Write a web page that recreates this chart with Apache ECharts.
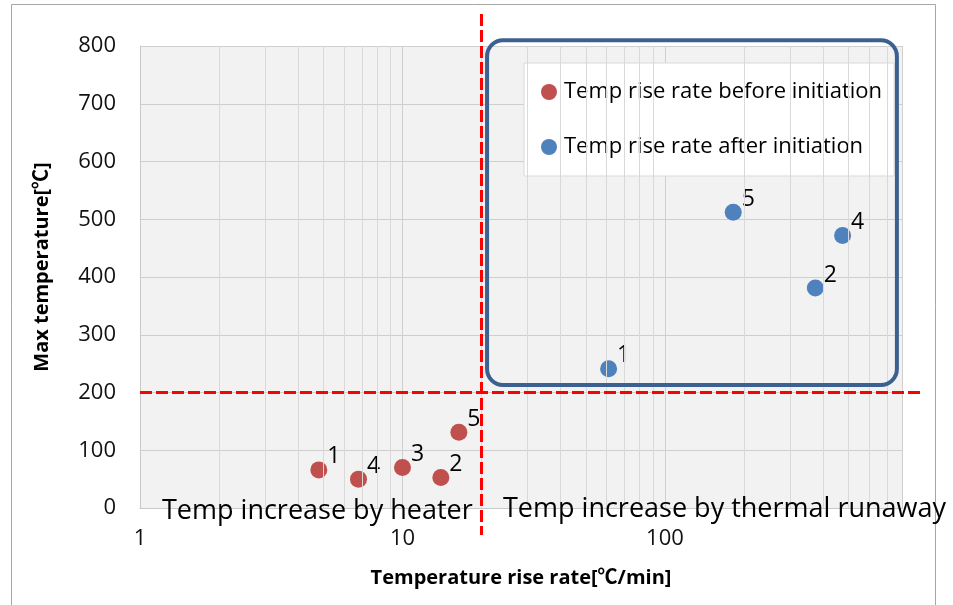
<!DOCTYPE html>
<html>
<head>
<meta charset="utf-8">
<script src="https://cdn.jsdelivr.net/npm/echarts@6/dist/echarts.min.js"></script>
<style>
  html, body { margin: 0; padding: 0; background: #fff; }
  #chart { width: 953px; height: 605px; }
</style>
</head>
<body>
<div id="chart"></div>
<script>
// data
var beforeIds = ['1', '4', '3', '2', '5'];
var beforeRate = [4.8, 6.8, 10, 14, 16.4];
var beforeTemp = [66, 50, 70, 53, 131];

var afterIds = ['1', '2', '4', '5'];
var afterRate = [61, 374, 475, 182];
var afterTemp = [241, 381, 472, 512];

// minor log gridlines (2..9 of each decade)
var minorGrid = [2, 3, 4, 5, 6, 7, 8, 9, 20, 30, 40, 50, 60, 70, 80, 90, 200, 300, 400, 500, 600, 700];

// annotation thresholds / box range (axis values)
var thresholdRate = 20;
var thresholdTemp = 200;
var boxRate = [21, 765];
var boxTemp = [213, 810];

var font = '"Open Sans", "Noto Sans CJK KR", sans-serif';

function toPoints(ids, xs, ys) {
  return ids.map(function (id, i) {
    return { name: id, value: [xs[i], ys[i]] };
  });
}

var myChart = echarts.init(document.getElementById('chart'));

var pointLabel = {
  show: true,
  position: 'right',
  distance: 0,
  offset: [0, -13],
  formatter: '{b}',
  color: '#000',
  fontSize: 23,
  fontFamily: font
};

option = {
  backgroundColor: '#fff',
  animation: false,
  textStyle: { fontFamily: font },
  grid: {
    left: 140, top: 46, right: 51, bottom: 97,
    show: true,
    backgroundColor: '#f2f2f2',
    borderWidth: 0
  },
  legend: {
    orient: 'vertical',
    left: 524,
    top: 63,
    padding: [18, 12, 18, 17],
    itemGap: 33,
    itemWidth: 16,
    itemHeight: 16,
    icon: 'circle',
    backgroundColor: '#fff',
    borderColor: '#d9d9d9',
    borderWidth: 1,
    textStyle: { fontSize: 22, color: '#000', fontFamily: font, padding: [0, 0, 0, 2] },
    data: ['Temp rise rate before initiation', 'Temp rise rate after initiation']
  },
  xAxis: {
    type: 'log',
    logBase: 10,
    min: 1,
    max: 800,
    name: 'Temperature rise rate[℃/min]',
    nameLocation: 'middle',
    nameGap: 60,
    nameTextStyle: { fontSize: 20, fontWeight: 'bold', color: '#000', fontFamily: font },
    axisLine: { show: true, lineStyle: { color: '#c8c8c8' } },
    axisTick: { show: false },
    axisLabel: { fontSize: 22, color: '#111', margin: 20, showMaxLabel: false },
    splitLine: { show: true, lineStyle: { color: '#cfcfcf', width: 1 } }
  },
  yAxis: {
    type: 'value',
    min: 0,
    max: 800,
    interval: 100,
    name: 'Max temperature[℃]',
    nameLocation: 'middle',
    nameGap: 88,
    nameTextStyle: { fontSize: 20, fontWeight: 'bold', color: '#000', fontFamily: font, padding: [0, 0, 0, 20] },
    axisLine: { show: true, lineStyle: { color: '#c8c8c8' } },
    axisTick: { show: false },
    axisLabel: { fontSize: 22, color: '#111', margin: 24 },
    splitLine: { show: true, lineStyle: { color: '#cfcfcf', width: 1 } }
  },
  series: [
    {
      name: 'minor grid',
      type: 'scatter',
      data: [],
      silent: true,
      markLine: {
        silent: true,
        symbol: 'none',
        label: { show: false },
        lineStyle: { color: '#d9d9d9', width: 1, type: 'solid' },
        data: minorGrid.map(function (v) { return { xAxis: v }; })
      }
    },
    {
      name: 'Temp rise rate before initiation',
      type: 'scatter',
      symbolSize: 17,
      itemStyle: { color: '#c0504d', opacity: 1 },
      label: pointLabel,
      data: toPoints(beforeIds, beforeRate, beforeTemp)
    },
    {
      name: 'Temp rise rate after initiation',
      type: 'scatter',
      symbolSize: 17,
      itemStyle: { color: '#4f81bd', opacity: 1 },
      label: pointLabel,
      data: toPoints(afterIds, afterRate, afterTemp)
    }
  ]
};

myChart.setOption(option);

// annotations positioned through the axes
var vx = myChart.convertToPixel({ xAxisIndex: 0 }, thresholdRate);
var hy = myChart.convertToPixel({ yAxisIndex: 0 }, thresholdTemp);
var bx0 = myChart.convertToPixel({ xAxisIndex: 0 }, boxRate[0]);
var bx1 = myChart.convertToPixel({ xAxisIndex: 0 }, boxRate[1]);
var by0 = myChart.convertToPixel({ yAxisIndex: 0 }, boxTemp[1]);
var by1 = myChart.convertToPixel({ yAxisIndex: 0 }, boxTemp[0]);
var dash = { stroke: '#ff0000', lineWidth: 3, lineDash: [12, 4] };

myChart.setOption({
  graphic: [
    {
      type: 'rect', silent: true, z: -1,
      shape: { x: 11.5, y: 4.5, width: 924, height: 640 },
      style: { fill: null, stroke: '#a6a6a6', lineWidth: 1 }
    },
    {
      type: 'rect', silent: true, z: 90,
      shape: { x: bx0, y: by0, width: bx1 - bx0, height: by1 - by0, r: 16 },
      style: { fill: null, stroke: '#3c6191', lineWidth: 4 }
    },
    {
      type: 'line', silent: true, z: 95,
      shape: { x1: vx, y1: 14, x2: vx, y2: 535 },
      style: dash
    },
    {
      type: 'line', silent: true, z: 95,
      shape: { x1: 140, y1: hy, x2: 922, y2: hy },
      style: dash
    },
    {
      type: 'text', silent: true, z: 100,
      x: 162, y: 511,
      style: { text: 'Temp increase by heater', fontSize: 27, fill: '#000', fontFamily: font, verticalAlign: 'middle' }
    },
    {
      type: 'text', silent: true, z: 100,
      x: 503, y: 509,
      style: { text: 'Temp increase by thermal runaway', fontSize: 27, fill: '#000', fontFamily: font, verticalAlign: 'middle' }
    }
  ]
});
</script>
</body>
</html>
